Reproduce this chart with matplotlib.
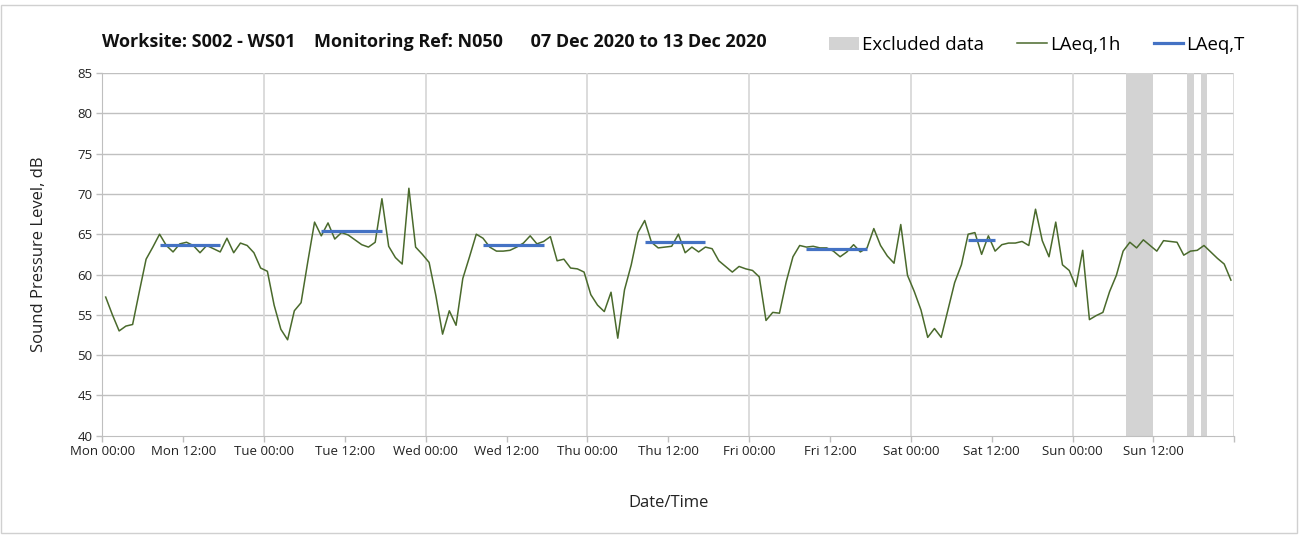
import numpy as np
import matplotlib
matplotlib.use("Agg")
import matplotlib.pyplot as plt
from matplotlib.patches import Patch, Rectangle
from matplotlib.lines import Line2D

plt.rcParams['font.family'] = ['Open Sans', 'DejaVu Sans']

# Hourly LAeq,1h values, Mon 00:00 .. Sun 23:00
laeq_1h = [
    # Mon
    57.2, 55.0, 53.0, 53.6, 53.8, 57.9, 61.9, 63.4, 65.0, 63.6, 62.8, 63.8,
    64.0, 63.6, 62.7, 63.6, 63.2, 62.8, 64.5, 62.7, 63.9, 63.6, 62.7, 60.8,
    # Tue
    60.4, 56.2, 53.2, 51.9, 55.5, 56.5, 61.6, 66.5, 64.8, 66.4, 64.4, 65.2,
    64.9, 64.3, 63.7, 63.4, 64.0, 69.4, 63.5, 62.1, 61.3, 70.7, 63.4, 62.5,
    # Wed
    61.5, 57.4, 52.6, 55.5, 53.7, 59.5, 62.2, 65.0, 64.5, 63.4, 62.9, 62.9,
    63.0, 63.4, 63.9, 64.8, 63.8, 64.1, 64.7, 61.7, 61.9, 60.8, 60.7, 60.3,
    # Thu
    57.5, 56.2, 55.4, 57.8, 52.1, 58.1, 61.2, 65.2, 66.7, 64.0, 63.3, 63.4,
    63.5, 65.0, 62.7, 63.4, 62.8, 63.4, 63.2, 61.7, 61.0, 60.3, 61.0, 60.7,
    # Fri
    60.5, 59.7, 54.3, 55.3, 55.2, 59.1, 62.2, 63.6, 63.4, 63.5, 63.3, 63.3,
    62.9, 62.2, 62.8, 63.7, 62.8, 63.3, 65.7, 63.6, 62.3, 61.4, 66.2, 59.9,
    # Sat
    57.9, 55.6, 52.2, 53.3, 52.2, 55.6, 59.0, 61.2, 65.0, 65.2, 62.5, 64.8,
    62.9, 63.7, 63.9, 63.9, 64.1, 63.6, 68.1, 64.2, 62.2, 66.5, 61.2, 60.5,
    # Sun
    58.5, 63.0, 54.4, 54.9, 55.3, 57.9, 59.9, 62.9, 64.0, 63.3, 64.3, 63.6,
    62.9, 64.2, 64.1, 64.0, 62.4, 62.9, 63.0, 63.6, 62.8, 62.0, 61.3, 59.3,
]

# Working-period LAeq,T (hours from Mon 00:00)
period_start = [8, 32, 56, 80, 104, 128]
period_end = [18, 42, 66, 90, 114, 133]
laeq_t = [63.6, 65.4, 63.7, 64.0, 63.2, 64.3]

# Excluded data windows (hours from Mon 00:00)
excl_start = [152, 161, 163]
excl_end = [156, 162, 164]

tick_labels = ["Mon 00:00", "Mon 12:00", "Tue 00:00", "Tue 12:00",
               "Wed 00:00", "Wed 12:00", "Thu 00:00", "Thu 12:00",
               "Fri 00:00", "Fri 12:00", "Sat 00:00", "Sat 12:00",
               "Sun 00:00", "Sun 12:00", ""]

W, H = 1301, 537
fig = plt.figure(figsize=(W / 100, H / 100), dpi=100)
fig.patch.set_facecolor("white")

# Chart-area frame
fig.patches.append(Rectangle((1.5 / W, 4.5 / H), 1295 / W, 528 / H,
                             transform=fig.transFigure, fill=False,
                             edgecolor="#d0d0d0", linewidth=1.0))

left, right, top, bottom = 102.3, 1234.3, 73.0, 435.7
ax = fig.add_axes([left / W, 1 - bottom / H, (right - left) / W, (bottom - top) / H])

grid_h = "#c0c0c0"
grid_v = "#d9d9d9"
green = "#4a6a2c"
blue = "#4472c4"
band = "#d3d3d3"

ax.set_xlim(0, 168)
ax.set_ylim(40, 85)

# Grid
for y in range(45, 90, 5):
    ax.axhline(y, color=grid_h, lw=1.0, zorder=0)
for d in range(24, 169, 24):
    ax.axvline(d, color=grid_v, lw=1.3, zorder=0)

for s, e in zip(excl_start, excl_end):
    ax.axvspan(s, e, color=band, lw=0, zorder=1)

hours = np.arange(len(laeq_1h)) + 0.5
ax.plot(hours, laeq_1h, color=green, lw=1.1, zorder=3)

for s, e, v in zip(period_start, period_end, laeq_t):
    ax.plot([s + 0.5, e - 0.5], [v, v], color=blue, lw=2.3,
            solid_capstyle="butt", zorder=4)

for side in ["top", "right"]:
    ax.spines[side].set_visible(False)
ax.spines["left"].set_color("#bfbfbf")
ax.spines["bottom"].set_color("#bfbfbf")

ax.set_xticks(np.arange(0, 169, 12))
ax.set_xticklabels(tick_labels, fontsize=9.5, color="#222222")
ax.set_yticks(np.arange(40, 86, 5))
ax.set_yticklabels([str(v) for v in range(40, 86, 5)], fontsize=9.5, color="#222222")
ax.tick_params(axis="both", direction="out", length=4, width=1, color="#bfbfbf", pad=3)

ax.set_ylabel("Sound Pressure Level, dB", fontsize=12, color="#222222", labelpad=22)
ax.set_xlabel("Date/Time", fontsize=12, color="#222222", labelpad=26)

fig.text(102 / W, 1 - 42 / H,
         "Worksite: S002 - WS01    Monitoring Ref: N050      07 Dec 2020 to 13 Dec 2020",
         fontsize=13.0, fontweight="bold", va="center", ha="left", color="#111111")

handles = [Patch(facecolor=band, edgecolor="none"),
           Line2D([], [], color=green, lw=1.1),
           Line2D([], [], color=blue, lw=2.3)]
labels = ["Excluded data", "LAeq,1h", "LAeq,T"]
leg = fig.legend(handles, labels, loc="center right", ncol=3,
                 bbox_to_anchor=(1252 / W, 1 - 45 / H), frameon=False,
                 fontsize=13.4, handlelength=1.6, handletextpad=0.15,
                 columnspacing=1.8, borderaxespad=0)

fig.savefig("out.png", dpi=100, facecolor="white")
